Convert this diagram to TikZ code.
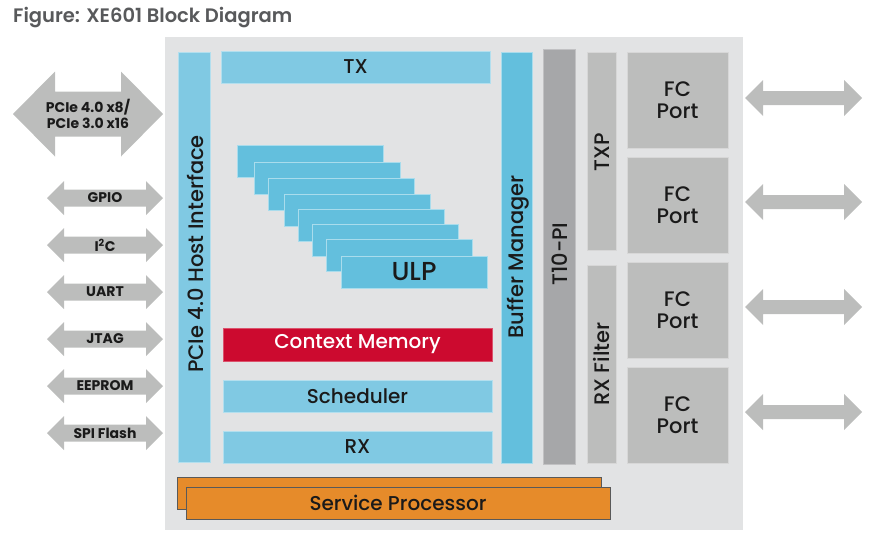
\documentclass[tikz,border=0pt]{standalone}
\usepackage{fontspec}
\setmainfont{Poppins}
\newfontfamily\gm{Poppins Medium}
\newfontfamily\gmt{Poppins SemiBold}
\usetikzlibrary{calc}
\definecolor{panel}{HTML}{E2E3E4}
\definecolor{lblue}{HTML}{80C9E3}
\definecolor{mblue}{HTML}{63BFDD}
\definecolor{tgray}{HTML}{A6A7A9}
\definecolor{pgray}{HTML}{BCBDBC}
\definecolor{cred}{HTML}{CC0A2F}
\definecolor{corange}{HTML}{E68B2A}
\definecolor{titlegray}{HTML}{58595B}
\definecolor{ink}{HTML}{1A1A1A}
\tikzset{
  blk/.style={anchor=north west, inner sep=0pt, outer sep=0pt, line width=0.6pt, text=ink},
  lb/.style={blk, fill=lblue, draw=lblue!60!white},
  mb/.style={blk, fill=mblue, draw=mblue!55!white},
  gb/.style={blk, fill=pgray, draw=pgray!60!white},
  tb/.style={blk, fill=tgray, draw=tgray!70!white},
  orb/.style={blk, fill=corange, draw=black!65, line width=0.6pt},
  arr/.style={fill=pgray, draw=none},
  lfont/.style={font=\gm\fontsize{20}{22}\selectfont},
  albl/.style={font=\bfseries\fontsize{14}{15.5}\selectfont, text=ink, align=center, inner sep=0pt},
  vlbl/.style={rotate=90, text=ink, inner sep=0pt, font=\gm\fontsize{21}{22}\selectfont},
}
% double arrow: x0, x1, yc, head half, shaft half, head length
\newcommand{\dblarr}[6]{%
  \fill[arr] (#1,#3) -- ({#1+#6},{#3-#4}) -- ({#1+#6},{#3-#5}) -- ({#2-#6},{#3-#5})
    -- ({#2-#6},{#3-#4}) -- (#2,#3) -- ({#2-#6},{#3+#4}) -- ({#2-#6},{#3+#5})
    -- ({#1+#6},{#3+#5}) -- ({#1+#6},{#3+#4}) -- cycle;}
\begin{document}
\begin{tikzpicture}[x=1pt,y=-1pt]
\useasboundingbox (0,0) rectangle (873,539);
% title
\node[anchor=base west, inner sep=0pt, text=titlegray, font=\gmt\fontsize{19.5}{20}\selectfont] (title) at (13,22) {Figure: XE601 Block Diagram};
% panel
\node[blk, fill=panel, minimum width=578pt, minimum height=493pt] (panel) at (165,37) {};
% left arrows
\dblarr{13}{163}{114}{42.5}{22.5}{42}
\node[albl] (pcie) at (88,114) {PCIe 4.0 x8/\\PCIe 3.0 x16};
\foreach \yc/\nm/\t in {198/gpio/GPIO, 245/i2c/I\textsuperscript{2}C, 292/uart/UART, 339/jtag/JTAG, 386/eeprom/EEPROM, 433/spi/SPI Flash}{
  \dblarr{47}{163}{\yc}{17}{8.5}{17}
  \node[albl] (\nm) at (105,\yc) {\t};
}
% right arrows
\foreach \yc in {98,202,307,412}{
  \dblarr{745}{862}{\yc}{18}{7}{18}
}
% host interface
\node[lb, minimum width=32pt, minimum height=410pt] (host) at (178,52) {};
\node[vlbl] (hostl) at (195,254) {PCIe 4.0 Host Interface};
% TX
\node[lb, lfont, minimum width=269pt, minimum height=32pt] (tx) at (221,51) {TX};
% ULP stack
\foreach \i/\x/\y in {1/237/145, 2/254/162, 3/268/178, 4/284/194, 5/298/209, 6/312/224, 7/326/239}{
  \node[mb, minimum width=146pt, minimum height=32pt] (ulp\i) at (\x,\y) {};
}
\node[mb, minimum width=146pt, minimum height=32pt, font=\gm\fontsize{26}{28}\selectfont] (ulp8) at (341,256) {ULP};
% context memory, scheduler, rx
\node[blk, lfont, fill=cred, draw=cred!70!white, minimum width=269pt, minimum height=33pt, text=white] (ctx) at (223,328) {Context Memory};
\node[lb, lfont, minimum width=269pt, minimum height=32pt] (sched) at (223,380) {Scheduler};
\node[lb, lfont, minimum width=269pt, minimum height=32pt] (rx) at (223,431) {RX};
% buffer manager
\node[mb, minimum width=31pt, minimum height=411pt] (buf) at (501,52) {};
\node[vlbl] (bufl) at (518,257) {Buffer Manager};
% T10-PI
\node[tb, minimum width=32pt, minimum height=415pt] (t10) at (543,49) {};
\node[vlbl] (t10l) at (560,254) {T10-PI};
% TXP / RX filter
\node[gb, minimum width=29pt, minimum height=198pt] (txp) at (587,52) {};
\node[vlbl] (txpl) at (602,152) {TXP};
\node[gb, minimum width=29pt, minimum height=198pt] (rxf) at (587,265) {};
\node[vlbl] (rxfl) at (602,364) {RX Filter};
% FC ports
\foreach \i/\y in {1/52, 2/157, 3/262, 4/367}{
  \node[gb, minimum width=101pt, minimum height=96pt, align=center, font=\gm\fontsize{21}{21.5}\selectfont] (fc\i) at (627,\y) {FC\\Port};
}
% service processor
\node[orb, minimum width=424pt, minimum height=32pt] (sp0) at (177,477) {};
\node[orb, lfont, minimum width=424pt, minimum height=32pt] (sp) at (186,487) {Service Processor};
\end{tikzpicture}
\end{document}
